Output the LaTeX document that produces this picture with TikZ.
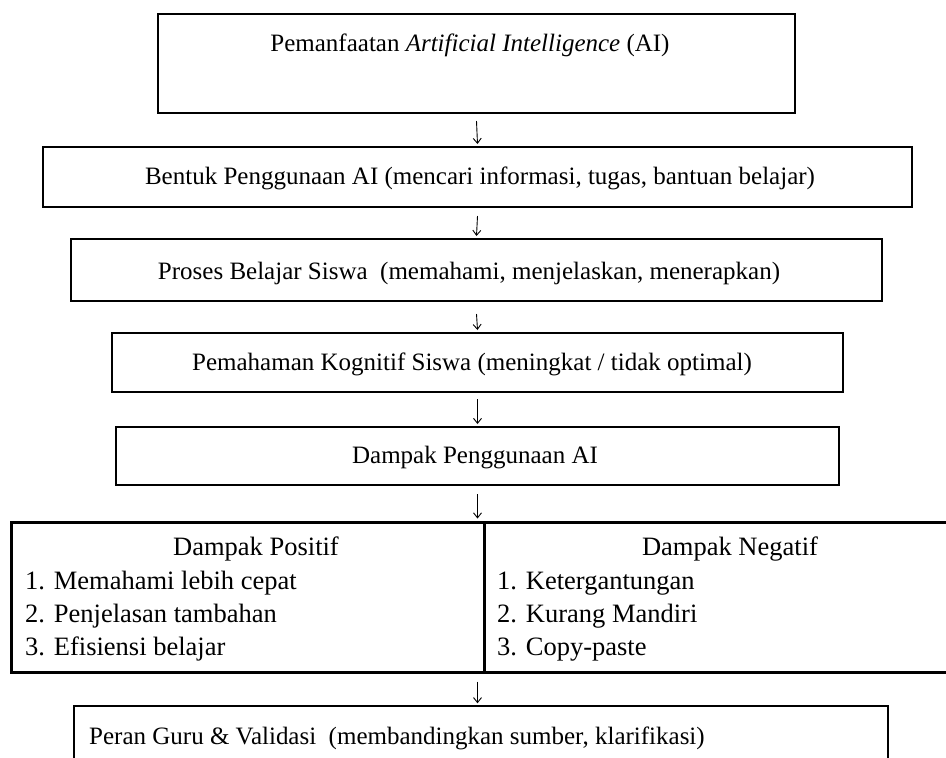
\documentclass[tikz,border=0pt]{standalone}
\usepackage{fontspec}
\setmainfont{Liberation Serif}
\usetikzlibrary{arrows.meta}
\begin{document}
\begin{tikzpicture}[x=1pt,y=-1pt,
  boxa/.style={draw, line width=2pt, minimum width=#1, inner sep=0pt},
  txt/.style={inner sep=0pt, text height=0.7em, text depth=0.2em, font=\fontsize{25}{30}\selectfont},
  ttxt/.style={inner sep=0pt, text height=0.7em, text depth=0.2em, font=\fontsize{26.5}{33}\selectfont},
  arr/.style={line width=0.9pt, -{Straight Barb[length=5pt,width=8pt]}},
  cell/.style={draw, line width=3pt, inner sep=0pt}
]
\useasboundingbox (0,0) rectangle (946,758);
% box 1
\node[boxa=637pt, minimum height=99pt] (b1) at (476.5,63.5) {};
\node[txt] (t1) at (470,49) {Pemanfaatan \textit{Artificial Intelligence} (AI)};
% box 2
\node[boxa=869pt, minimum height=60pt] (b2) at (477.5,177) {};
\node[txt] (t2) at (480,182) {Bentuk Penggunaan AI (mencari informasi, tugas, bantuan belajar)};
% box 3
\node[boxa=811pt, minimum height=62pt] (b3) at (476.5,270) {};
\node[txt] (t3) at (469,277) {Proses Belajar Siswa\ \ (memahami, menjelaskan, menerapkan)};
% box 4
\node[boxa=731pt, minimum height=59pt] (b4) at (477.5,362.5) {};
\node[txt] (t4) at (472,368) {Pemahaman Kognitif Siswa (meningkat / tidak optimal)};
% box 5
\node[boxa=723pt, minimum height=58pt] (b5) at (477.5,456) {};
\node[txt] (t5) at (475,461) {Dampak Penggunaan AI};
% table
\node[cell, minimum width=473pt, minimum height=150pt] (tl) at (247.5,597) {};
\node[cell, minimum width=500pt, minimum height=150pt] (tr) at (734,597) {};
\node[ttxt] (h1) at (256,553) {Dampak Positif};
\node[ttxt] (h2) at (730,553) {Dampak Negatif};
\node[ttxt, anchor=west] (p1) at (25,587) {1. Memahami lebih cepat};
\node[ttxt, anchor=west] (p2) at (25,620) {2. Penjelasan tambahan};
\node[ttxt, anchor=west] (p3) at (25,653) {3. Efisiensi belajar};
\node[ttxt, anchor=west] (n1) at (497,587) {1. Ketergantungan};
\node[ttxt, anchor=west] (n2) at (497,620) {2. Kurang Mandiri};
\node[ttxt, anchor=west] (n3) at (497,653) {3. Copy-paste};
% box 7
\node[draw, line width=1.5pt, inner sep=0pt, minimum width=814pt, minimum height=100pt] (b7) at (481,756) {};
\node[txt, anchor=west] (t7) at (89,742) {Peran Guru \& Validasi\ \ (membandingkan sumber, klarifikasi)};
% arrows
\draw[arr] ([yshift=-7pt]b1.south) -- ([yshift=2pt]b2.north);
\draw[arr] ([yshift=-8pt]b2.south) -- ([yshift=2pt]b3.north);
\draw[arr] ([yshift=-12pt]b3.south) -- ([yshift=2pt]b4.north);
\draw[arr] ([yshift=-6pt]b4.south) -- ([yshift=2pt]b5.north);
\draw[arr] ([yshift=-8pt]b5.south) -- ([yshift=2pt]b5.south |- tl.north);
\draw[arr] ([yshift=-8pt]b5.south |- tl.south) -- ([yshift=2pt]b5.south |- b7.north);
\end{tikzpicture}
\end{document}
